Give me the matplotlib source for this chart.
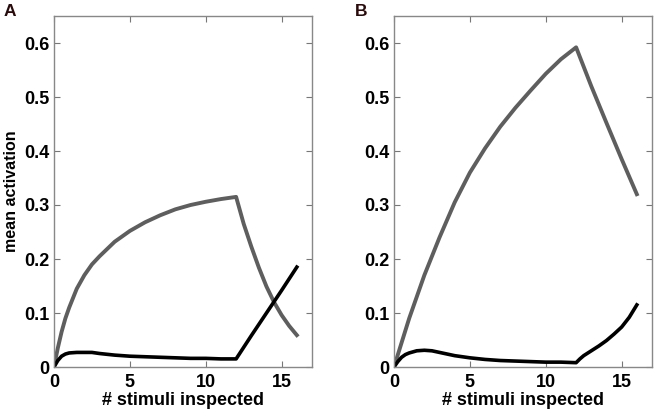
import matplotlib
matplotlib.use("Agg")
import matplotlib.pyplot as plt

# panel A
xa = [0, 0.25, 0.5, 0.75, 1, 1.5, 2, 2.5, 3, 4, 5, 6, 7, 8, 9, 10, 11, 12,
      12.5, 13, 13.5, 14, 14.5, 15, 15.5, 16]
gray_a = [0, 0.035, 0.065, 0.09, 0.11, 0.145, 0.17, 0.19, 0.205, 0.232, 0.252,
          0.268, 0.281, 0.292, 0.300, 0.306, 0.311, 0.315,
          0.265, 0.223, 0.184, 0.149, 0.12, 0.096, 0.076, 0.059]
xb_a = [0, 0.25, 0.5, 0.75, 1, 1.5, 2, 2.5, 3, 4, 5, 6, 7, 8, 9, 10, 11, 12,
        13, 14, 15, 16]
black_a = [0, 0.012, 0.02, 0.024, 0.026, 0.027, 0.027, 0.027, 0.025, 0.022, 0.020,
           0.019, 0.018, 0.017, 0.016, 0.016, 0.015, 0.015, 0.058, 0.100, 0.142, 0.185]

# panel B
xg_b = [0, 0.5, 1, 1.5, 2, 2.5, 3, 4, 5, 6, 7, 8, 9, 10, 11, 12, 13, 14, 15, 16]
gray_b = [0, 0.045, 0.09, 0.13, 0.17, 0.205, 0.24, 0.305, 0.36, 0.405, 0.445,
          0.48, 0.512, 0.543, 0.57, 0.592, 0.52, 0.452, 0.385, 0.32]
xk_b = [0, 0.25, 0.5, 0.75, 1, 1.5, 2, 2.5, 3, 4, 5, 6, 7, 8, 9, 10, 11, 12,
        12.25, 12.5, 13, 13.5, 14, 14.5, 15, 15.5, 16]
black_b = [0, 0.01, 0.018, 0.023, 0.026, 0.030, 0.031, 0.030, 0.027, 0.021, 0.017,
           0.014, 0.012, 0.011, 0.010, 0.009, 0.009, 0.008,
           0.015, 0.021, 0.030, 0.039, 0.049, 0.061, 0.074, 0.092, 0.115]

xticks = [0, 5, 10, 15]
yticks = [0, 0.1, 0.2, 0.3, 0.4, 0.5, 0.6]
ytick_labels = ['0', '0.1', '0.2', '0.3', '0.4', '0.5', '0.6']

plt.rcParams['font.family'] = ['Liberation Sans', 'DejaVu Sans']
plt.rcParams['font.weight'] = 'bold'

fig = plt.figure(figsize=(6.54, 4.13), dpi=100)
W, H = 654.0, 413.0
ax_a = fig.add_axes([54 / W, 1 - 367 / H, 258 / W, 351 / H])
ax_b = fig.add_axes([394 / W, 1 - 367 / H, 258 / W, 351 / H])

panels = [(ax_a, xa, gray_a, xb_a, black_a, 'A', -0.195),
          (ax_b, xg_b, gray_b, xk_b, black_b, 'B', -0.15)]

for ax, xg, yg, xk, yk, letter, lx in panels:
    ax.plot(xg, yg, color='#5e5e5e', lw=2.8)
    ax.plot(xk, yk, color='black', lw=2.6)
    ax.set_xlim(0, 17)
    ax.set_ylim(0, 0.65)
    ax.set_xticks(xticks)
    ax.set_yticks(yticks)
    ax.set_yticklabels(ytick_labels)
    ax.tick_params(direction='in', top=True, right=True, length=4,
                   color='#777777', labelsize=13)
    ax.tick_params(axis='x', pad=5)
    ax.tick_params(axis='y', pad=3)
    for lab in ax.get_xticklabels() + ax.get_yticklabels():
        lab.set_fontweight('bold')
    for s in ax.spines.values():
        s.set_color('#888888')
        s.set_linewidth(1.0)
    ax.set_xlabel('# stimuli inspected', fontsize=13, fontweight='bold', labelpad=1)
    ax.text(lx, 1.0, letter, transform=ax.transAxes, fontsize=12.5,
            fontweight='bold', va='baseline', ha='left', color='#2a0a0a')

ax_a.set_ylabel('mean activation', fontsize=11.5, fontweight='bold', labelpad=4)

fig.savefig('out.png', dpi=100)
